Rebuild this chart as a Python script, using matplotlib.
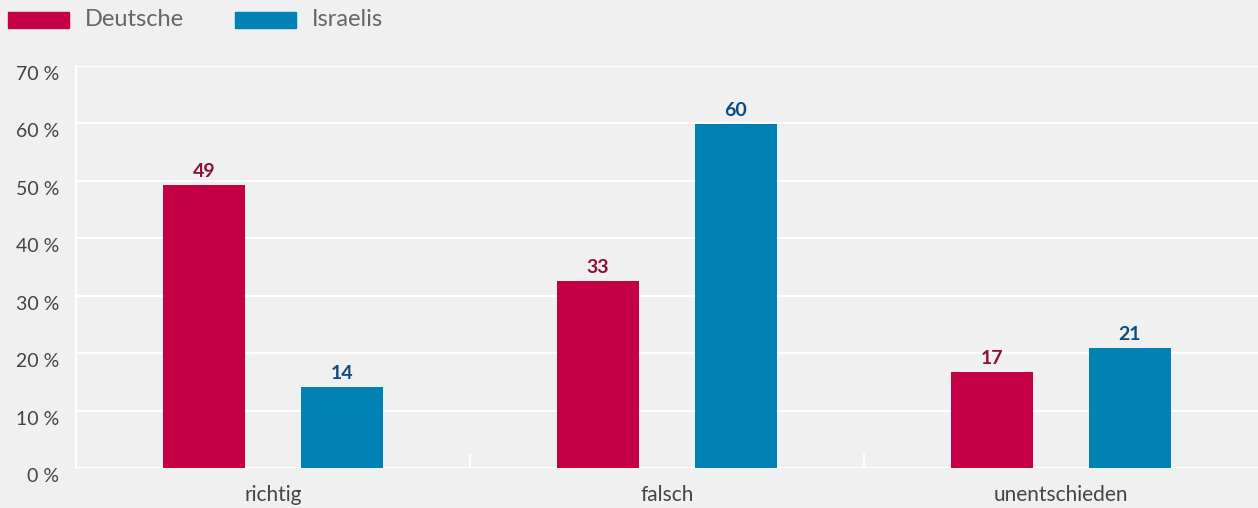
import matplotlib.pyplot as plt
import numpy as np
from matplotlib.patches import Rectangle

categories = ["richtig", "falsch", "unentschieden"]
series = ["Deutsche", "Israelis"]
deutsche = [49.3, 32.6, 16.7]
israelis = [14.1, 59.9, 20.9]
yticks = [0, 10, 20, 30, 40, 50, 60, 70]

bg = "#f0f0f0"
bar_colors = ["#c40046", "#0083b4"]
label_colors = ["#8a0f3c", "#0d4a84"]

plt.rcParams['font.family'] = ['Lato', 'DejaVu Sans']

fig = plt.figure(figsize=(12.58, 5.08), dpi=100)
fig.patch.set_facecolor(bg)
ax = fig.add_axes([76 / 1258, 40 / 508, 1182 / 1258, 402 / 508])
ax.set_facecolor(bg)

x = np.arange(len(categories))
width = 0.21
offset = 0.175
for vals, col, lcol, sign in [(deutsche, bar_colors[0], label_colors[0], -1),
                              (israelis, bar_colors[1], label_colors[1], 1)]:
    bars = ax.bar(x + sign * offset, vals, width, color=col, zorder=3)
    for b, v in zip(bars, vals):
        ax.text(b.get_x() + b.get_width() / 2, v + 0.9, f"{round(v)}",
                ha='center', va='bottom', fontsize=14, fontweight='bold',
                color=lcol, zorder=4)

ax.set_xlim(-0.5, 2.5)
ax.set_ylim(0, 70)
ax.set_yticks(yticks)
ax.set_yticklabels([f"{t} %" for t in yticks])
for lab in ax.get_yticklabels():
    lab.set_va('top')
ax.set_xticks(x)
ax.set_xticklabels(categories)
ax.set_xticks([0.5, 1.5], minor=True)
ax.tick_params(axis='x', which='major', length=0, labelsize=15, colors='#444444', pad=12)
ax.tick_params(axis='x', which='minor', length=10, width=1.5, color='white', direction='in')
ax.tick_params(axis='y', length=0, labelsize=14, colors='#444444', pad=12)
ax.grid(axis='y', color='white', linewidth=1.5, zorder=0)
for s in ['top', 'right', 'bottom']:
    ax.spines[s].set_visible(False)
ax.spines['left'].set_color('white')
ax.spines['left'].set_linewidth(1.5)

# legend
W, H = 1258, 508
for i, (name, col) in enumerate(zip(series, bar_colors)):
    x0 = 8 + i * 227
    fig.add_artist(Rectangle((x0 / W, 1 - 28 / H), 61 / W, 16 / H,
                             transform=fig.transFigure, color=col))
    fig.text((x0 + 77) / W, 1 - 20 / H, name, fontsize=17,
             color='#666666', va='center', ha='left')

fig.savefig("out.png", dpi=100, facecolor=bg)
